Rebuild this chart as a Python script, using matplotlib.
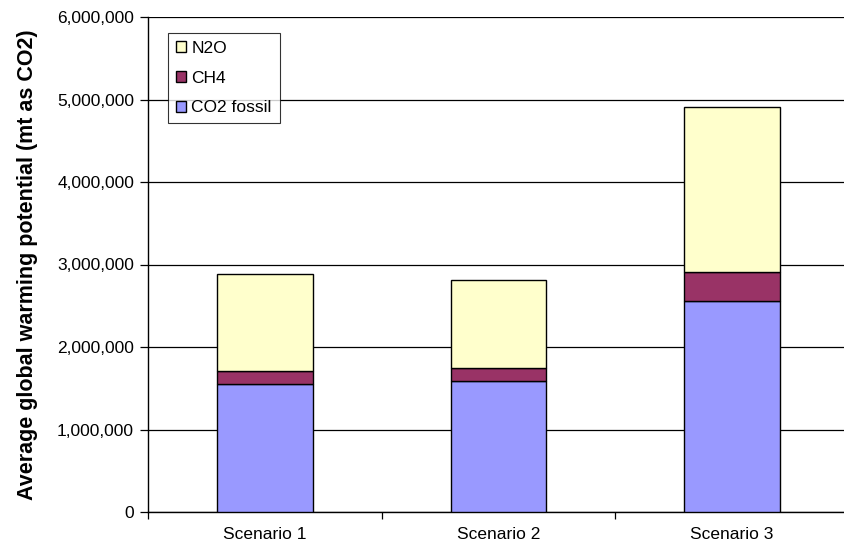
import numpy as np
import matplotlib.pyplot as plt
from matplotlib.ticker import FuncFormatter, FixedLocator

plt.rcParams['font.family'] = ['Liberation Sans', 'DejaVu Sans']

# data
scenarios = ['Scenario 1', 'Scenario 2', 'Scenario 3']
co2_fossil = [1550000, 1585000, 2560000]
ch4 = [157000, 165000, 350000]
n2o = [1173000, 1060000, 2000000]

colors = {'CO2 fossil': '#9999FF', 'CH4': '#993366', 'N2O': '#FFFFCC'}

fig = plt.figure(figsize=(8.44, 5.48), dpi=100)
# axes runs slightly past the right edge, like the original
ax = fig.add_axes([148 / 844, 36 / 548, 701 / 844, 495 / 548])

x = np.arange(len(scenarios))
width = 0.41
b1 = ax.bar(x, co2_fossil, width, color=colors['CO2 fossil'], edgecolor='black',
            linewidth=1, label='CO2 fossil', zorder=3)
b2 = ax.bar(x, ch4, width, bottom=co2_fossil, color=colors['CH4'], edgecolor='black',
            linewidth=1, label='CH4', zorder=3)
bottom3 = np.array(co2_fossil) + np.array(ch4)
b3 = ax.bar(x, n2o, width, bottom=bottom3, color=colors['N2O'], edgecolor='black',
            linewidth=1, label='N2O', zorder=3)

ax.set_xlim(-0.5, 2.5)
ax.set_ylim(0, 6000000)
ax.set_yticks(np.arange(0, 6000001, 1000000))
ax.yaxis.set_major_formatter(FuncFormatter(lambda v, p: f'{int(v):,}'))
ax.yaxis.grid(True, color='black', linewidth=0.9, zorder=0)
ax.set_xticks(x)
ax.set_xticklabels(scenarios)
ax.xaxis.set_minor_locator(FixedLocator([-0.5, 0.5, 1.5, 2.5]))
ax.tick_params(axis='x', which='major', length=0, labelsize=12.5, pad=11)
ax.tick_params(axis='x', which='minor', length=5, direction='out', width=0.9)
ax.tick_params(axis='y', length=6, direction='out', width=0.9, labelsize=12.5, pad=4)

for s in ['top', 'right']:
    ax.spines[s].set_visible(False)
ax.spines['left'].set_linewidth(1)
ax.spines['bottom'].set_linewidth(1)

ax.set_ylabel('Average global warming potential (mt as CO2)', fontsize=15.5,
              fontweight='bold', labelpad=14)

handles = [b3, b2, b1]
leg = ax.legend(handles, ['N2O', 'CH4', 'CO2 fossil'], loc='upper left',
                bbox_to_anchor=(20 / 701, 1 - 16 / 495), fontsize=12.5, frameon=True,
                fancybox=False, edgecolor='black', handlelength=0.6,
                handleheight=0.6, labelspacing=0.85, borderpad=0.45,
                handletextpad=0.3, borderaxespad=0)
leg.get_frame().set_linewidth(0.8)

fig.savefig('out.png', dpi=100)
